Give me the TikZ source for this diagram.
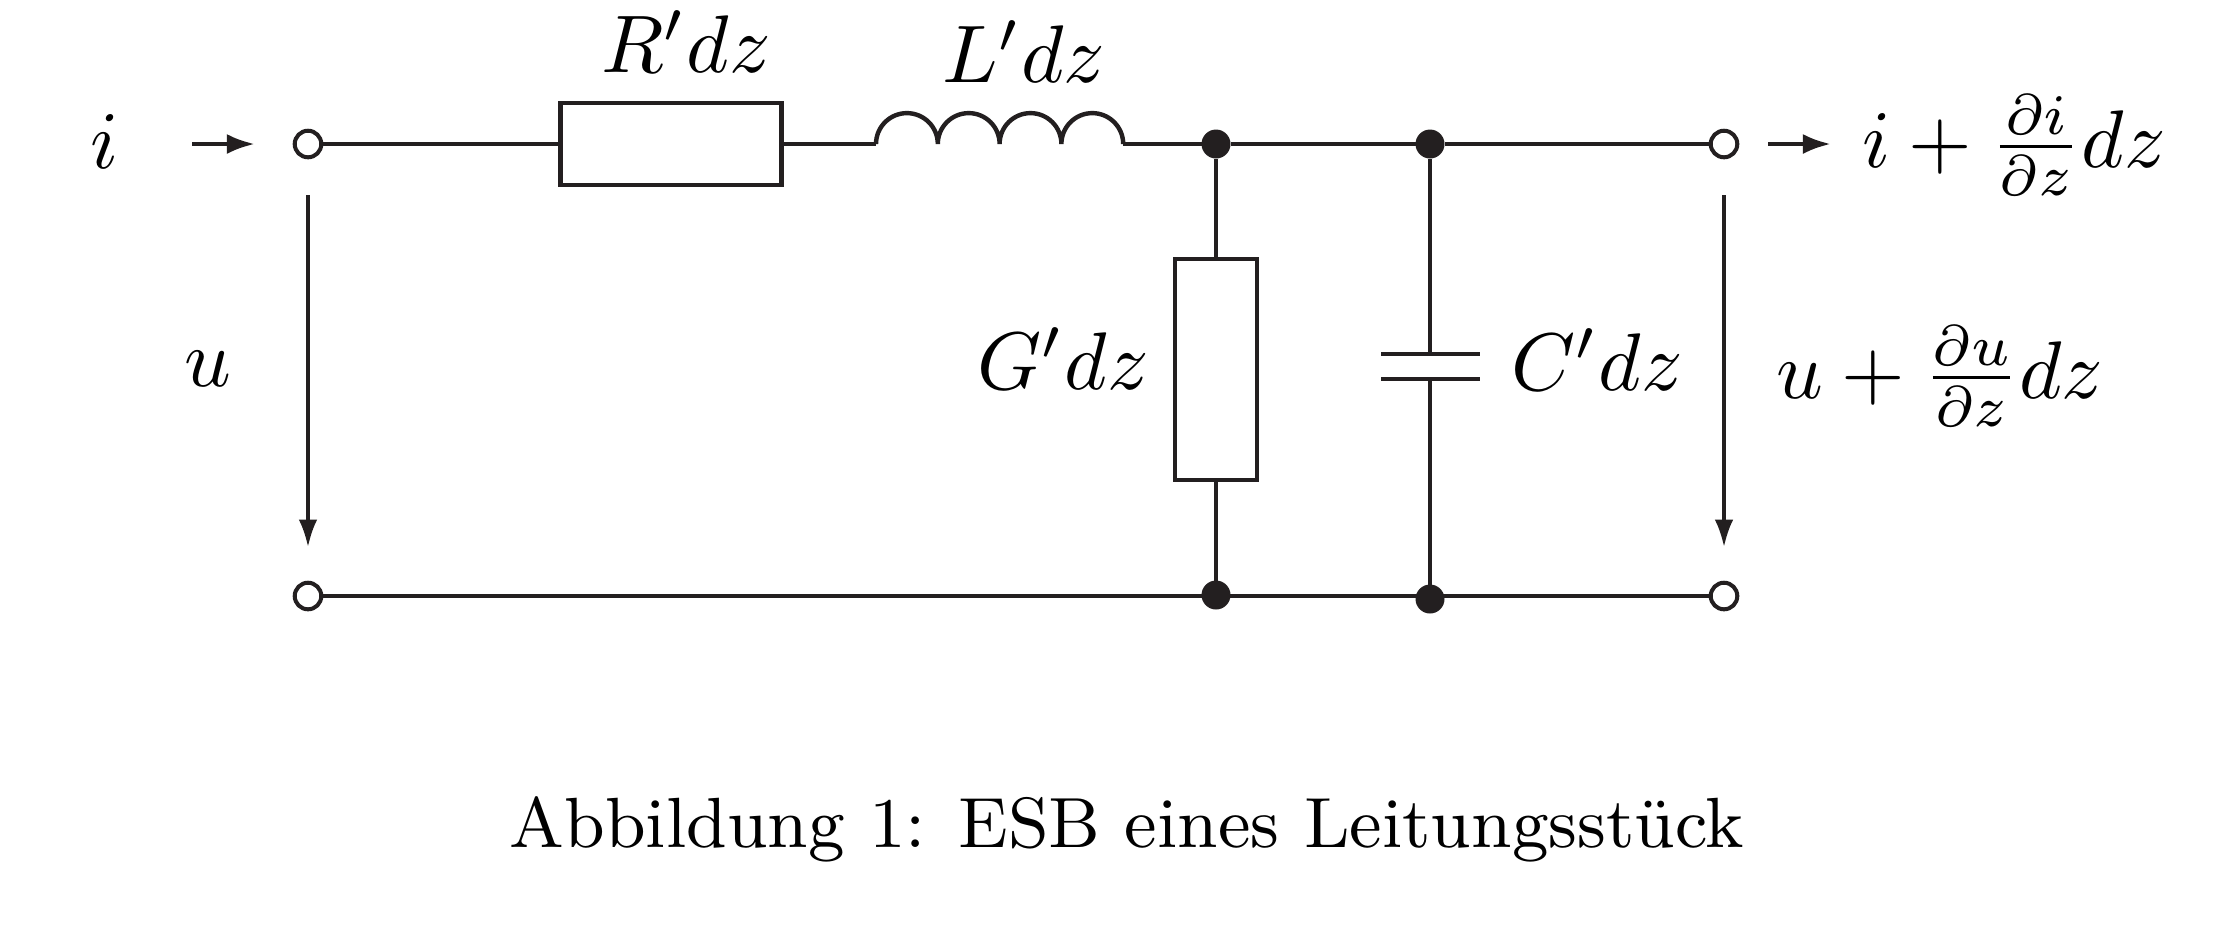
\documentclass[tikz,border=0pt]{standalone}
\usepackage{fix-cm}
\usepackage{amsmath}
\usetikzlibrary{arrows.meta}
\definecolor{wirecol}{RGB}{35,31,32}
\tikzset{
  wire/.style={line width=0.55pt,color=wirecol},
  resbox/.style={draw=wirecol,rectangle,line width=0.56pt,fill=white,inner sep=0pt,outer sep=0pt},
  terminal/.style={draw=wirecol,circle,line width=0.5pt,fill=white,inner sep=0pt,outer sep=0pt,minimum size=3.3pt},
  junction/.style={draw=none,circle,fill=wirecol,inner sep=0pt,outer sep=0pt,minimum size=3.6pt},
  volt/.style={line width=0.42pt,color=wirecol,-{Latex[length=3.4pt,width=2.3pt]}},
  curr/.style={line width=0.55pt,color=wirecol,-{Latex[length=3.5pt,width=2.5pt]}},
  lab/.style={anchor=base,inner sep=0pt,outer sep=0pt,font=\fontsize{10.15}{12}\selectfont}
}
\begin{document}
\begin{tikzpicture}[x=0.1242pt,y=0.1242pt,yscale=-1,xscale=1]
\useasboundingbox (0,0) rectangle (2226,940);
% Terminals
\node [terminal] (tl) at (308,144) {};
\node [terminal] (tr) at (1724,144) {};
\node [terminal] (bl) at (308,596) {};
\node [terminal] (br) at (1724,596) {};
% Junctions
\node [junction] (dg1) at (1216,144) {};
\node [junction] (dc1) at (1430,144) {};
\node [junction] (dg2) at (1216,595) {};
\node [junction] (dc2) at (1430,599) {};
% Resistors
\node [resbox,minimum width=27.4pt,minimum height=10.2pt] (rs) at (671,144) {};
\node [resbox,minimum width=10.2pt,minimum height=27.4pt] (rg) at (1216,369.5) {};
% Coil ends
\coordinate (lin) at (876,144);
\coordinate (lout) at (1123,144);
% Capacitor plates
\coordinate (pa) at (1430,354);
\coordinate (pb) at (1430,379);
\coordinate (pal) at (1381,354);
\coordinate (par) at (1480,354);
\coordinate (pbl) at (1381,379);
\coordinate (pbr) at (1480,379);
% Top wire
\draw [wire] (tl) -- (rs);
\draw [wire] (rs) -- (lin);
\draw [wire] (lin) arc[start angle=180,end angle=360,radius=30.9] arc[start angle=180,end angle=360,radius=30.9] arc[start angle=180,end angle=360,radius=30.9] arc[start angle=180,end angle=360,radius=30.9];
\draw [wire] (lout) -- (dg1);
\draw [wire] (dg1) -- (dc1);
\draw [wire] (dc1) -- (tr);
% Bottom wire
\draw [wire] (bl) -- (br);
% Shunt branches
\draw [wire] (dg1) -- (rg);
\draw [wire] (rg) -- (dg2);
\draw [wire] (dc1) -- (pa);
\draw [wire] (pb) -- (dc2);
\draw [wire] (pal) -- (par);
\draw [wire] (pbl) -- (pbr);
% Arrows
\coordinate (ia) at (192,144);
\coordinate (ib) at (255,144);
\coordinate (ic) at (1768,144);
\coordinate (id) at (1831,144);
\coordinate (ua) at (308,195);
\coordinate (ub) at (308,547);
\coordinate (uc) at (1724,195);
\coordinate (ud) at (1724,547);
\draw [curr] (ia) -- (ib);
\draw [curr] (ic) -- (id);
\draw [volt] (ua) -- (ub);
\draw [volt] (uc) -- (ud);
% Text Node
\node [lab] (li) at (105,168) {$i$};
\node [lab] (lu) at (208,386) {$u$};
\node [lab] (lr) at (686,72) {$R'dz$};
\node [lab] (ll) at (1024,82) {$L'dz$};
\node [lab] (lg) at (1063,389) {$G'dz$};
\node [lab] (lc) at (1597,390) {$C'dz$};
\node [lab] (lio) at (2014,167) {$i+\frac{\partial i}{\partial z}dz$};
\node [lab] (luo) at (1940,398) {$u+\frac{\partial u}{\partial z}dz$};
\node [lab,font=\fontsize{8.83}{11}\selectfont] (cap) at (1127,847) {Abbildung 1: ESB eines Leitungsstück};
\end{tikzpicture}
\end{document}
